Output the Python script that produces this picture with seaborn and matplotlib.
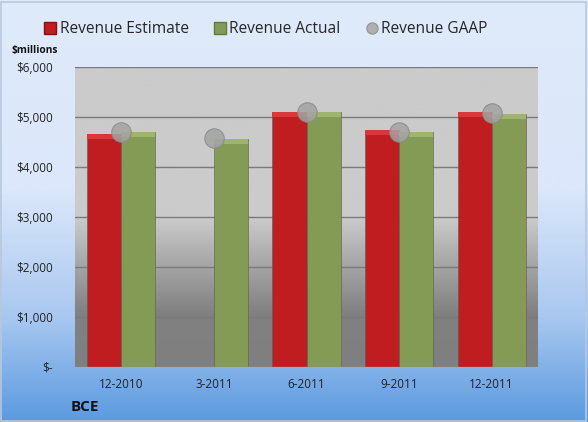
import numpy as np
import pandas as pd
import matplotlib
matplotlib.use("Agg")
import matplotlib.pyplot as plt
from matplotlib.colors import LinearSegmentedColormap
from matplotlib.lines import Line2D
import seaborn as sns

quarters = ["12-2010", "3-2011", "6-2011", "9-2011", "12-2011"]
rev_estimate = [4655, np.nan, 5105, 4750, 5105]
rev_actual = [4695, 4560, 5105, 4710, 5055]
rev_gaap = [4695, 4590, 5105, 4710, 5075]
yticks = [0, 1000, 2000, 3000, 4000, 5000, 6000]
ytick_labels = ["$-", "$1,000", "$2,000", "$3,000", "$4,000", "$5,000", "$6,000"]

sns.set_theme(style="white")
plt.rcParams["font.family"] = ["Open Sans", "DejaVu Sans"]

df = pd.DataFrame({
    "quarter": quarters * 2,
    "series": ["Revenue Estimate"] * 5 + ["Revenue Actual"] * 5,
    "value": rev_estimate + rev_actual,
})
gaap = pd.DataFrame({"quarter": quarters, "value": rev_gaap})

W, H = 588, 422
fig = plt.figure(figsize=(W / 100, H / 100), dpi=100)

# figure background gradient
bg = fig.add_axes([0, 0, 1, 1], zorder=-10)
bg_cmap = LinearSegmentedColormap.from_list(
    "bg", [(0.0, "#dfeafa"), (0.45, "#dbe7fa"), (0.75, "#a9c8f0"), (1.0, "#5b9ae0")])
grad = np.linspace(0, 1, 256).reshape(-1, 1)
bg.imshow(grad, aspect="auto", cmap=bg_cmap, extent=[0, 1, 0, 1], origin="upper")
bg.add_patch(plt.Rectangle((0.002, 0.003), 0.995, 0.993, fill=False,
                           edgecolor="#b8c8dc", lw=1.2, transform=bg.transAxes))
bg.set_axis_off()

ax = fig.add_axes([75 / W, 1 - 367 / H, (538 - 75) / W, 300 / H])

# plot area gradient
pa_cmap = LinearSegmentedColormap.from_list(
    "pa", [(0.0, "#cbcbcb"), (0.5, "#cbcbcb"), (0.82, "#818181"), (1.0, "#7f7f7f")])
ax.imshow(grad, aspect="auto", cmap=pa_cmap, extent=[-0.5, 4.5, 0, 6000],
          origin="upper", zorder=0)

for y in yticks[1:]:
    ax.axhline(y, color="#7a7a7a", lw=1.0, zorder=1)

sns.barplot(data=df, x="quarter", y="value", hue="series", order=quarters,
            hue_order=["Revenue Estimate", "Revenue Actual"],
            palette={"Revenue Estimate": "#bf1d1f", "Revenue Actual": "#849b55"},
            width=0.735, gap=0.0, saturation=1, errorbar=None,
            edgecolor="#5a5a5a", linewidth=0.4, legend=False, ax=ax, zorder=2)

# bevel highlight on bar tops
for p in list(ax.patches):
    h = p.get_height()
    if np.isnan(h) or h <= 0:
        continue
    fc = p.get_facecolor()
    light = tuple(min(1, c + 0.10) for c in fc[:3])
    ax.add_patch(plt.Rectangle((p.get_x(), h - 100), p.get_width(), 100,
                               facecolor=light, edgecolor="none", zorder=3))

sns.stripplot(data=gaap, x="quarter", y="value", order=quarters, jitter=False,
              color="#a3a3a3", size=14, alpha=0.85, edgecolor="#8a8a8a",
              linewidth=0.8, ax=ax, zorder=5)

ax.set_xlim(-0.5, 4.5)
ax.set_ylim(0, 6000)
ax.set_yticks(yticks)
ax.set_yticklabels(ytick_labels, fontsize=8.5, color="#222222")
ax.set_xticks(range(5))
ax.set_xticklabels(quarters, fontsize=8.5, color="#222222")
ax.tick_params(axis="x", pad=8, length=0)
ax.tick_params(axis="y", pad=16, length=0)
ax.set_xlabel("")
ax.set_ylabel("")
for s in ax.spines.values():
    s.set_visible(False)
ax.axhline(0, color="#8a8a8a", lw=1.0, zorder=6)

fig.text(12 / W, 1 - 51 / H, "$millions", fontsize=7.3, fontweight="bold",
         ha="left", va="center", color="#111111")
fig.text(71 / W, 1 - 407 / H, "BCE", fontsize=11, fontweight="bold",
         ha="left", va="center", color="#111111")

handles = [
    Line2D([], [], marker="s", ls="", markersize=8, markerfacecolor="#bf1d1f",
           markeredgecolor="#8a1010"),
    Line2D([], [], marker="s", ls="", markersize=8, markerfacecolor="#849b55",
           markeredgecolor="#5f7a3a"),
    Line2D([], [], marker="o", ls="", markersize=8, markerfacecolor="#b0b0b0",
           markeredgecolor="#9a9a9a"),
]
fig.legend(handles, ["Revenue Estimate", "Revenue Actual", "Revenue GAAP"],
           loc="center", bbox_to_anchor=(265 / W, 1 - 29 / H), ncol=3,
           frameon=False, fontsize=11.2, handletextpad=0.1, columnspacing=1.5,
           handlelength=1.0)

fig.savefig("out.png", dpi=100)
